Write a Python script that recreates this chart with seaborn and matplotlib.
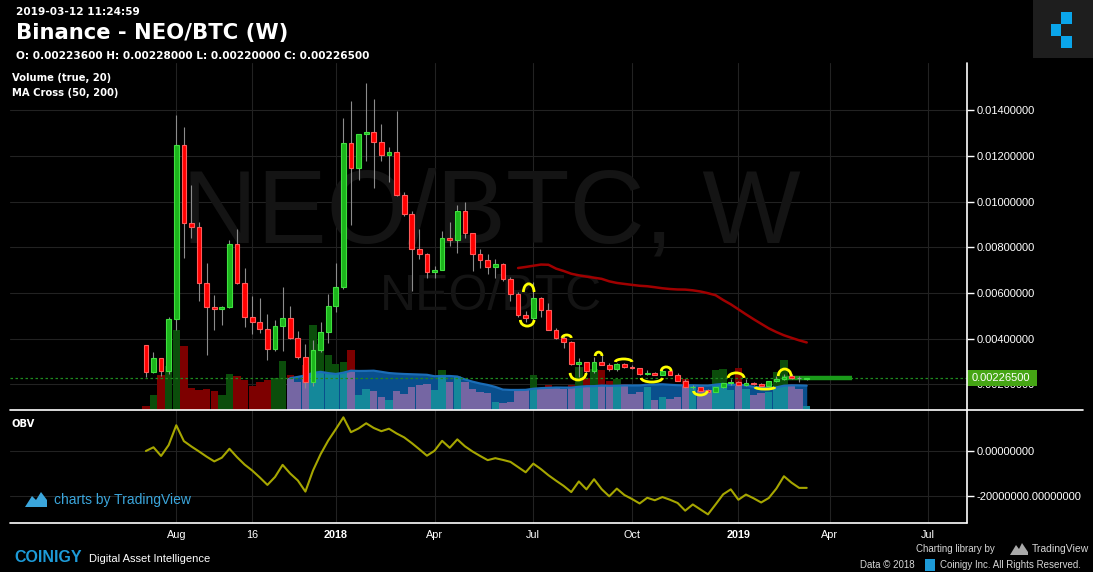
import numpy as np
import pandas as pd
import matplotlib
matplotlib.use("Agg")
import matplotlib.pyplot as plt
import seaborn as sns
from matplotlib.patches import Arc, Rectangle, Polygon
from matplotlib.lines import Line2D

W, H = 1093, 572

# ---------------- data (weekly NEO/BTC, Binance) ----------------
opens = [0.00371, 0.00255, 0.00314, 0.00260, 0.00485, 0.01247, 0.00905, 0.00890, 0.00645, 0.00540,
         0.00531, 0.00537, 0.00814, 0.00642, 0.00493, 0.00474, 0.00444, 0.00353, 0.00454, 0.00489,
         0.00404, 0.00321, 0.00211, 0.00349, 0.00428, 0.00542, 0.00625, 0.01255, 0.01149, 0.01295,
         0.01304, 0.01260, 0.01203, 0.01216, 0.01030, 0.00944, 0.00791, 0.00769, 0.00690, 0.00701,
         0.00839, 0.00833, 0.00958, 0.00861, 0.00769, 0.00743, 0.00715, 0.00727, 0.00662, 0.00594,
         0.00502, 0.00489, 0.00577, 0.00524, 0.00439, 0.00401, 0.00387, 0.00288, 0.00298, 0.00257,
         0.00296, 0.00286, 0.00268, 0.00289, 0.00277, 0.00270, 0.00244, 0.00250, 0.00242, 0.00258,
         0.00242, 0.00216, 0.00187, 0.00189, 0.00175, 0.00167, 0.00187, 0.00204, 0.00211, 0.00196,
         0.00206, 0.00202, 0.00194, 0.00214, 0.00223, 0.00237, 0.002265, 0.002236]
highs = [0.00372, 0.00341, 0.00315, 0.00493, 0.01379, 0.01325, 0.01073, 0.00909, 0.00730, 0.00591,
         0.00543, 0.00832, 0.00880, 0.00708, 0.00587, 0.00577, 0.00508, 0.00482, 0.00625, 0.00543,
         0.00433, 0.00375, 0.00394, 0.00472, 0.00595, 0.00730, 0.01365, 0.01441, 0.01298, 0.01518,
         0.01449, 0.01339, 0.01239, 0.01397, 0.01040, 0.00959, 0.00880, 0.00774, 0.00718, 0.00871,
         0.00911, 0.00985, 0.00998, 0.00861, 0.00793, 0.00771, 0.00747, 0.00730, 0.00670, 0.00604,
         0.00521, 0.00647, 0.00581, 0.00555, 0.00445, 0.00416, 0.00390, 0.00314, 0.00299, 0.00321,
         0.00328, 0.00293, 0.00293, 0.00295, 0.00285, 0.00273, 0.00263, 0.00255, 0.00270, 0.00260,
         0.00248, 0.00222, 0.00197, 0.00190, 0.00178, 0.00189, 0.00207, 0.00222, 0.00213, 0.00222,
         0.00209, 0.00204, 0.00216, 0.00236, 0.00245, 0.00245, 0.00238, 0.00228]
lows = [0.00233, 0.00251, 0.00236, 0.00245, 0.00438, 0.00753, 0.00842, 0.00565, 0.00328, 0.00438,
        0.00460, 0.00533, 0.00640, 0.00452, 0.00420, 0.00426, 0.00306, 0.00347, 0.00347, 0.00398,
        0.00311, 0.00183, 0.00194, 0.00343, 0.00382, 0.00518, 0.00617, 0.00898, 0.01095, 0.01178,
        0.01058, 0.01178, 0.01087, 0.01026, 0.00938, 0.00609, 0.00749, 0.00667, 0.00667, 0.00699,
        0.00807, 0.00776, 0.00842, 0.00698, 0.00708, 0.00684, 0.00667, 0.00654, 0.00566, 0.00496,
        0.00474, 0.00482, 0.00496, 0.00439, 0.00397, 0.00360, 0.00285, 0.00233, 0.00251, 0.00251,
        0.00285, 0.00258, 0.00260, 0.00270, 0.00268, 0.00241, 0.00239, 0.00241, 0.00239, 0.00241,
        0.00213, 0.00184, 0.00178, 0.00170, 0.00166, 0.00165, 0.00185, 0.00197, 0.00192, 0.00194,
        0.00198, 0.00192, 0.00192, 0.00210, 0.00220, 0.00222, 0.00210, 0.00220]
closes = [0.00255, 0.00314, 0.00260, 0.00485, 0.01247, 0.00905, 0.00890, 0.00645, 0.00540, 0.00531,
          0.00537, 0.00814, 0.00642, 0.00493, 0.00474, 0.00444, 0.00353, 0.00454, 0.00489, 0.00404,
          0.00321, 0.00211, 0.00349, 0.00428, 0.00542, 0.00625, 0.01255, 0.01149, 0.01295, 0.01304,
          0.01260, 0.01203, 0.01216, 0.01030, 0.00944, 0.00791, 0.00769, 0.00690, 0.00701, 0.00839,
          0.00833, 0.00958, 0.00861, 0.00769, 0.00743, 0.00715, 0.00727, 0.00662, 0.00594, 0.00502,
          0.00489, 0.00577, 0.00524, 0.00439, 0.00401, 0.00387, 0.00288, 0.00298, 0.00257, 0.00296,
          0.00286, 0.00268, 0.00289, 0.00277, 0.00270, 0.00244, 0.00250, 0.00242, 0.00258, 0.00242,
          0.00216, 0.00187, 0.00189, 0.00172, 0.00167, 0.00187, 0.00204, 0.00211, 0.00196, 0.00204,
          0.00200, 0.00194, 0.00215, 0.00223, 0.00234, 0.00228, 0.002265, 0.002265]
volume_m = [0.44, 1.65, 3.85, 4.84, 8.80, 7.04, 2.42, 2.20, 2.31, 2.09,
            1.65, 3.96, 3.74, 3.30, 2.64, 3.08, 3.30, 3.52, 5.39, 3.85,
            3.08, 4.95, 9.35, 7.26, 6.05, 5.06, 5.28, 6.60, 1.65, 2.31,
            2.09, 1.43, 1.10, 2.09, 1.76, 2.53, 2.75, 2.86, 2.20, 4.40,
            3.08, 3.74, 3.08, 2.31, 1.98, 1.87, 0.88, 0.77, 0.88, 2.31,
            2.31, 3.85, 2.42, 2.75, 2.42, 2.31, 2.75, 4.73, 3.52, 4.51,
            4.40, 3.19, 3.41, 2.86, 1.76, 1.98, 2.53, 1.10, 1.43, 1.21,
            1.43, 3.41, 2.75, 2.20, 2.20, 4.40, 4.51, 2.20, 4.62, 2.31,
            1.65, 1.87, 1.98, 4.18, 5.50, 2.86, 2.31, 0.44]

tick_idx = [4, 14, 25, 38, 51, 64, 78, 90, 103]
tick_lbl = ["Aug", "16", "2018", "Apr", "Jul", "Oct", "2019", "Apr", "Jul"]
price_ticks = [0.002, 0.004, 0.006, 0.008, 0.010, 0.012, 0.014]
obv_ticks = [0, -20000000]
last_price = 0.002265

# yellow hand-drawn arcs (bar index, edge price, extreme price, width in bars)
arc_idx = [50.4, 50.2, 55.4, 56.9, 59.6, 62.9, 66.6, 68.5, 73.0, 77.7, 81.5, 84.1]
arc_base = [0.00604, 0.00482, 0.00403, 0.00250, 0.00324, 0.00298, 0.00228, 0.00258, 0.00171, 0.00228, 0.00188, 0.00236]
arc_peak = [0.00640, 0.00455, 0.00416, 0.00219, 0.00341, 0.00311, 0.00210, 0.00276, 0.00153, 0.00250, 0.00179, 0.00267]
arc_width = [1.4, 1.8, 1.2, 2.1, 0.9, 2.2, 2.8, 1.3, 1.8, 2.1, 2.6, 1.7]
band_start, band_end, band_price = 83.7, 92.96, 0.00226

# ---------------- styling ----------------
sns.set_theme(style="dark")
plt.rcParams["font.family"] = ["Liberation Sans", "DejaVu Sans"]
plt.rcParams["axes.facecolor"] = "black"
plt.rcParams["figure.facecolor"] = "black"

BG = "black"
GRID = "#222222"
UP_F, UP_E = "#1cb51c", "#3fe03f"
DN_F, DN_E = "#ff0000", "#ff5a5a"
VOL_UP, VOL_DN = "#0b4d0b", "#7d0000"
VOL_UP_IN, VOL_DN_IN = "#14889a", "#7566a3"
MA_FILL, MA_LINE = "#094f8d", "#1b6db7"

n = len(closes)
x = np.arange(n)
o = np.array(opens); c = np.array(closes); hi = np.array(highs); lo = np.array(lows)
vol = np.array(volume_m)

vol_ma = pd.Series(vol).rolling(20).mean().to_numpy()
ma50 = pd.Series(c).rolling(50).mean().to_numpy()
direction = np.sign(np.diff(c, prepend=c[0]))
obv = np.cumsum(direction * vol * 1e6)

XL = (-17.89, 108.10)

fig = plt.figure(figsize=(W / 100, H / 100), dpi=100, facecolor=BG)
rect_main = [10 / W, 1 - 410 / H, 957 / W, 347 / H]
ax_v = fig.add_axes(rect_main)
ax = fig.add_axes(rect_main, sharex=ax_v)
ax_o = fig.add_axes([10 / W, 1 - 523 / H, 957 / W, 113 / H], sharex=ax_v)
ax.set_zorder(ax_v.get_zorder() + 1)
ax.patch.set_visible(False)
for a in (ax_v, ax, ax_o):
    a.set_facecolor(BG)
    for s in a.spines.values():
        s.set_visible(False)
    a.grid(False)

ax_v.set_xlim(*XL)
ax.set_ylim(0.000875, 0.016071)
ax_v.set_ylim(0, 38.17)
ax_o.set_ylim(-3.2e7, 1.822e7)

# grid
for t in tick_idx:
    ax_v.axvline(t, color=GRID, lw=0.8, zorder=0)
    ax_o.axvline(t, color=GRID, lw=0.8, zorder=0)
for p in price_ticks:
    ax_v.plot(XL, [p, p], color=GRID, lw=0.8, zorder=0, transform=ax.transData)
for p in obv_ticks:
    ax_o.axhline(p, color=GRID, lw=0.8, zorder=0)

# watermark
ax_v.text(0.5026, 0.484, "NEO/BTC, W", transform=ax_v.transAxes, ha="center", va="baseline",
          fontsize=75, color="#141414", zorder=0)
ax_v.text(0.5026, 0.288, "NEO/BTC", transform=ax_v.transAxes, ha="center", va="baseline",
          fontsize=36, color="#141414", zorder=0)

# volume
up = c > o
dn = c < o
vcol = np.where(up, VOL_UP, VOL_DN)
ax_v.bar(x, vol, width=0.97, color=vcol, linewidth=0, zorder=1)
m = ~np.isnan(vol_ma)
ax_v.fill_between(x[m], 0, vol_ma[m], color=MA_FILL, linewidth=0, zorder=2)
vin = np.where(up, VOL_UP_IN, VOL_DN_IN)
ax_v.bar(x[m], np.minimum(vol[m], vol_ma[m]), width=0.97, color=vin[m], linewidth=0, zorder=3)
sns.lineplot(x=x[m], y=vol_ma[m], ax=ax_v, color=MA_LINE, lw=1.6, zorder=4, legend=False)
ax_v.set_yticks([])
ax_v.tick_params(axis="x", length=0, labelbottom=False)

# price line & MA50
ax.axhline(last_price, color="#1f8a1f", lw=0.9, ls=(0, (2, 2)), zorder=1)
m50 = ~np.isnan(ma50)
sns.lineplot(x=x[m50], y=ma50[m50], ax=ax, color="#a00000", lw=1.8, zorder=2, legend=False)
ax.hlines(band_price, band_start, band_end, color="#1a9a1a", lw=3.2, zorder=2)

# candles
face = np.where(up, UP_F, np.where(dn, DN_F, "#9a9a9a"))
edge = np.where(up, UP_E, np.where(dn, DN_E, "#9a9a9a"))
ax.vlines(x, lo, hi, color="#8c8c8c", lw=0.8, zorder=3)
body_lo = np.minimum(o, c)
body_h = np.maximum(np.abs(c - o), 0.00002)
ax.bar(x, body_h, bottom=body_lo, width=0.62, color=face, edgecolor=edge, linewidth=0.8, zorder=4)

# yellow arcs
for xi, b, pk, w in zip(arc_idx, arc_base, arc_peak, arc_width):
    hgt = 2 * abs(pk - b)
    t1, t2 = (0, 180) if pk > b else (180, 360)
    ax.add_patch(Arc((xi, b), w, hgt, theta1=t1, theta2=t2, color="#ffff00", lw=2.0, zorder=5))

# price axis
ax.yaxis.tick_right()
ax.set_yticks(price_ticks)
ax.set_yticklabels([f"{p:.8f}" for p in price_ticks])
ax.tick_params(axis="y", colors="white", length=5, width=1, labelsize=8, pad=2,
               left=False, right=True, labelleft=False, labelright=True)
ax.tick_params(axis="x", length=0, labelbottom=False)

# last price label
ytr = ax.get_yaxis_transform()
ax.add_patch(Rectangle((1.0, last_price - 0.00034), 0.0731, 0.00069, transform=ytr,
                       facecolor="#45a514", edgecolor="none", clip_on=False, zorder=10))
ax.text(1.0052, last_price, f"{last_price:.8f}", transform=ytr, color="white", fontsize=8,
        va="center", ha="left", clip_on=False, zorder=11)

# OBV
sns.lineplot(x=x, y=obv, ax=ax_o, color="#a6a600", lw=1.5, legend=False, zorder=3)
ax_o.yaxis.tick_right()
ax_o.set_yticks(obv_ticks)
ax_o.set_yticklabels([f"{p:.8f}" for p in obv_ticks])
ax_o.tick_params(axis="y", colors="white", length=5, width=1, labelsize=8, pad=2,
                 left=False, right=True, labelleft=False, labelright=True)
ax_o.set_xticks(tick_idx)
ax_o.set_xticklabels(tick_lbl)
ax_o.tick_params(axis="x", colors="white", length=0, labelsize=7.8, pad=5)
for lab in ax_o.get_xticklabels():
    if lab.get_text().isdigit() and len(lab.get_text()) == 4:
        lab.set_fontweight("bold")
ax_o.set_xlabel(""); ax_o.set_ylabel(""); ax.set_ylabel(""); ax_v.set_ylabel("")
ax.set_xlabel(""); ax_v.set_xlabel("")
ax_v.set_xlim(*XL)

# frame lines (figure pixels)
def fl(xs, ys, **kw):
    fig.add_artist(Line2D([v / W for v in xs], [1 - v / H for v in ys], transform=fig.transFigure, **kw))

fl([967, 967], [63, 523], color="white", lw=1.2)
fl([10, 1083], [410, 410], color="white", lw=1.2)
fl([10, 967], [523, 523], color="white", lw=1.2)

# header texts
def ft(xp, yp, s, **kw):
    fig.text(xp / W, 1 - yp / H, s, va="center", **kw)

ft(16, 12, "2019-03-12 11:24:59", color="white", fontsize=7.6, fontweight="bold", family="DejaVu Sans")
ft(16, 33, "Binance - NEO/BTC (W)", color="white", fontsize=15.2, fontweight="bold", family="DejaVu Sans")
ft(16, 56, f"O: {opens[-1]:.8f} H: {highs[-1]:.8f} L: {lows[-1]:.8f} C: {closes[-1]:.8f}",
   color="white", fontsize=7.6, fontweight="bold", family="DejaVu Sans")
ft(12, 78, "Volume (true, 20)", color="white", fontsize=7.2, fontweight="bold", family="DejaVu Sans")
ft(12, 93, "MA Cross (50, 200)", color="white", fontsize=7.2, fontweight="bold", family="DejaVu Sans")
ft(12, 424, "OBV", color="white", fontsize=7.2, fontweight="bold", family="DejaVu Sans")

# top-right logo
def frect(x0, y0, x1, y1, col):
    fig.add_artist(Rectangle((x0 / W, 1 - y1 / H), (x1 - x0) / W, (y1 - y0) / H,
                             transform=fig.transFigure, facecolor=col, edgecolor="none"))

frect(1033, 0, 1093, 58, "#1e1e1e")
frect(1061, 12, 1072, 24, "#0aa5ea")
frect(1051, 24, 1061, 36, "#0aa5ea")
frect(1061, 36, 1072, 48, "#0aa5ea")

# charts by TradingView
def fpoly(pts, col):
    fig.add_artist(Polygon([(px / W, 1 - py / H) for px, py in pts], closed=True,
                           transform=fig.transFigure, facecolor=col, edgecolor="none"))

fpoly([(25, 507), (32, 496), (36, 500), (41, 492), (47, 500), (47, 507)], "#3ba6dc")
ft(54, 500, "charts by TradingView", color="#3ba6dc", fontsize=10)

# footer
ft(14, 558, "COINIGY", color="#1d9bd8", fontsize=11.5, fontweight="bold")
ft(89, 559, "Digital Asset Intelligence", color="white", fontsize=8)
ft(916, 549, "Charting library by", color="#d6d6d6", fontsize=7)
fpoly([(1010, 555), (1016, 545), (1019, 549), (1022, 543), (1028, 552), (1028, 555)], "#a8a8a8")
ft(1032, 549, "TradingView", color="#d6d6d6", fontsize=7.5)
ft(860, 565, "Data \u00a9 2018", color="#d6d6d6", fontsize=7)
frect(925, 559, 935, 571, "#1d9bd8")
ft(940, 565, "Coinigy Inc. All Rights Reserved.", color="#d6d6d6", fontsize=7)

fig.savefig("out.png", dpi=100, facecolor=BG)
